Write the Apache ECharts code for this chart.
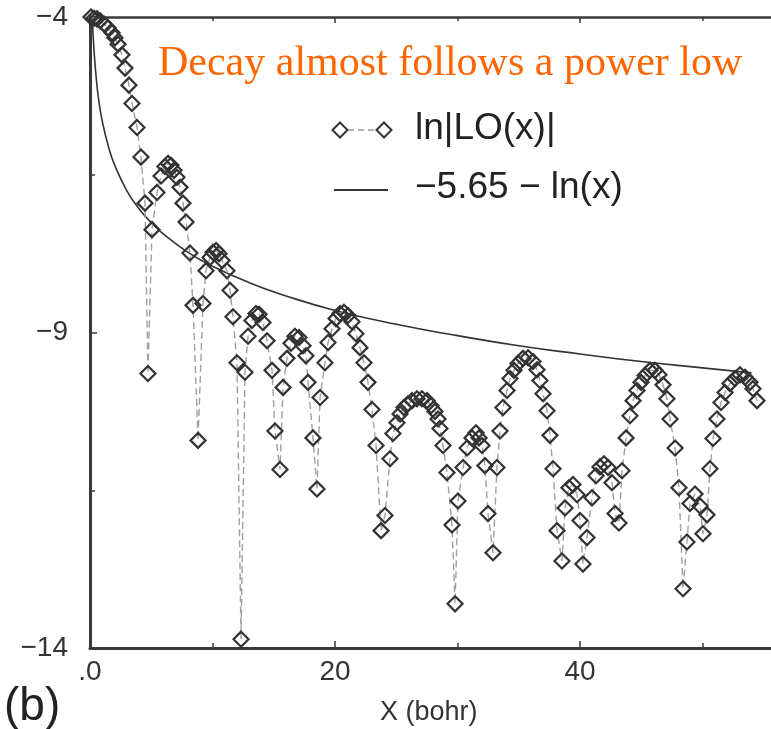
<!DOCTYPE html>
<html>
<head>
<meta charset="utf-8">
<title>ln|LO(x)| decay</title>
<script src="https://cdn.jsdelivr.net/npm/echarts@6/dist/echarts.min.js"></script>
<style>
  html, body { margin: 0; padding: 0; background: #fff; }
  #chart { width: 771px; height: 729px; }
</style>
</head>
<body>
<div id="chart"></div>
<script>
// ln|LO(x)| samples (x in bohr)
var loX = [0.08, 0.33, 0.57, 0.82, 1.14, 1.47, 1.80, 2.04, 2.29, 2.61, 2.86, 3.18, 3.43, 3.84, 4.16, 4.49, 4.73, 5.06, 5.47, 5.80,
  6.12, 6.37, 6.61, 6.86, 7.10, 7.35, 7.59, 7.84, 8.16, 8.41, 8.82, 9.22, 9.47, 9.80, 10.04, 10.29, 10.53, 10.78, 11.18, 11.43,
  11.67, 12.00, 12.33, 12.65, 12.90, 13.22, 13.55, 13.80, 14.12, 14.45, 14.86, 15.10, 15.51, 15.76, 16.08, 16.41, 16.73, 17.06, 17.39, 17.63,
  17.80, 18.20, 18.53, 18.78, 19.18, 19.43, 19.76, 20.08, 20.41, 20.73, 21.06, 21.39, 21.71, 22.04, 22.37, 22.69, 23.02, 23.35, 23.76, 24.08,
  24.49, 24.73, 25.06, 25.31, 25.63, 25.96, 26.29, 26.69, 27.10, 27.51, 27.84, 28.16, 28.41, 28.57, 28.82, 29.14, 29.55, 29.80, 30.04, 30.45,
  30.78, 31.18, 31.51, 31.76, 32.00, 32.24, 32.49, 32.90, 33.22, 33.47, 33.71, 34.04, 34.29, 34.61, 34.94, 35.35, 35.76, 36.16, 36.49, 36.73,
  36.98, 37.31, 37.55, 37.80, 38.12, 38.53, 38.78, 39.10, 39.43, 39.76, 40.00, 40.24, 40.57, 40.98, 41.31, 41.63, 41.96, 42.29, 42.61, 42.86,
  43.18, 43.43, 43.76, 44.08, 44.33, 44.65, 44.98, 45.31, 45.71, 46.12, 46.45, 46.78, 47.10, 47.35, 47.76, 48.08, 48.41, 48.73, 48.98, 49.39,
  49.80, 50.04, 50.37, 50.61, 50.86, 51.18, 51.51, 51.84, 52.24, 52.65, 53.06, 53.47, 53.88, 54.12, 54.45];
var loY = [-4.00, -4.02, -4.03, -4.06, -4.11, -4.17, -4.25, -4.33, -4.43, -4.60, -4.81, -5.08, -5.37, -5.75, -6.22, -6.95, -9.65, -7.37, -6.78, -6.52,
  -6.37, -6.32, -6.35, -6.43, -6.54, -6.70, -6.95, -7.25, -7.74, -8.57, -10.71, -8.54, -8.02, -7.81, -7.73, -7.70, -7.75, -7.86, -8.02, -8.33,
  -8.75, -9.48, -13.86, -9.63, -9.06, -8.81, -8.70, -8.71, -8.84, -9.13, -9.60, -10.56, -11.17, -9.87, -9.41, -9.17, -9.06, -9.08, -9.21, -9.37,
  -9.79, -10.67, -11.48, -10.03, -9.48, -9.16, -8.94, -8.78, -8.70, -8.68, -8.73, -8.83, -9.02, -9.24, -9.48, -9.79, -10.22, -10.79, -12.14, -11.90,
  -11.00, -10.60, -10.43, -10.29, -10.19, -10.13, -10.08, -10.05, -10.05, -10.08, -10.16, -10.25, -10.37, -10.52, -10.79, -11.22, -12.05, -13.30, -11.67, -11.14,
  -10.83, -10.67, -10.59, -10.67, -10.79, -11.11, -11.87, -12.49, -11.14, -10.56, -10.19, -9.92, -9.73, -9.60, -9.49, -9.41, -9.40, -9.46, -9.59, -9.76,
  -9.97, -10.24, -10.63, -11.16, -12.14, -12.62, -11.78, -11.46, -11.41, -11.57, -11.98, -12.67, -12.25, -11.62, -11.27, -11.13, -11.08, -11.14, -11.38, -11.87,
  -12.02, -11.19, -10.67, -10.32, -10.08, -9.92, -9.79, -9.68, -9.60, -9.60, -9.67, -9.83, -10.05, -10.37, -10.83, -11.46, -13.06, -12.32, -11.71, -11.56,
  -11.75, -12.19, -11.89, -11.16, -10.68, -10.37, -10.11, -9.95, -9.81, -9.73, -9.67, -9.71, -9.79, -9.89, -10.08];

// the solid reference curve
var fitX = [0.2, 0.3, 0.5, 0.7, 1, 1.5, 2, 3, 4, 5, 6, 8, 10, 13, 16, 20, 25, 30, 35, 40, 45, 50, 54];
var fitY = [-4.05, -4.45, -4.95, -5.3, -5.65, -6.05, -6.34, -6.75, -7.04, -7.26, -7.44, -7.73, -7.95, -8.21, -8.42, -8.65, -8.87, -9.05, -9.21, -9.34, -9.46, -9.56, -9.64];

var xTicks = [0, 20, 40];
var yTicks = [-14, -9, -4];
var seriesNames = ['ln|LO(x)|', '\u22125.65 \u2212 ln(x)'];

var chart = echarts.init(document.getElementById('chart'));

function pairs(xs, ys) {
  return xs.map(function (x, i) { return [x, ys[i]]; });
}

var axisColor = '#3a3a3a';
var labelFont = 'Liberation Sans, Arial, sans-serif';

// small helper for the hand drawn legend diamonds
function diamond(cx, cy, r) {
  return {
    type: 'polygon',
    shape: { points: [[cx, cy - r], [cx + r, cy], [cx, cy + r], [cx - r, cy]] },
    style: { fill: '#fff', stroke: '#333', lineWidth: 2 }
  };
}

chart.setOption({
  backgroundColor: '#fff',
  animation: false,
  title: {
    text: 'Decay almost follows a power low',
    left: 153,
    top: 38,
    textStyle: { fontFamily: 'Liberation Serif, Times New Roman, serif', fontWeight: 'normal', fontSize: 42, color: '#ff6600' }
  },
  // the plot runs past the right edge of the picture (x up to 60)
  grid: { left: 90, top: 17, width: 735, height: 631, outerBoundsMode: 'none', containLabel: false },
  xAxis: [{
    type: 'value', min: 0, max: 60, interval: 20,
    axisLine: { lineStyle: { color: axisColor, width: 3 } },
    axisTick: { inside: true, length: 7, lineStyle: { color: axisColor, width: 1.5 } },
    minorTick: { show: true, splitNumber: 2, length: 5, lineStyle: { color: axisColor, width: 1.5 } },
    splitLine: { show: false },
    axisLabel: {
      margin: 10, fontSize: 28, color: '#333', fontFamily: labelFont,
      formatter: function (v) { return xTicks.indexOf(v) < 0 ? '' : (v === 0 ? '.0' : String(v)); }
    }
  }, {
    type: 'value', position: 'top', min: 0, max: 60, interval: 20,
    axisLine: { onZero: false, lineStyle: { color: axisColor, width: 2.5 } },
    axisTick: { inside: true, length: 6, lineStyle: { color: axisColor, width: 1.5 } },
    minorTick: { show: true, splitNumber: 2, length: 4, lineStyle: { color: axisColor, width: 1.5 } },
    axisLabel: { show: false },
    splitLine: { show: false }
  }],
  yAxis: {
    type: 'value', min: -14, max: -4, interval: 5,
    axisLine: { onZero: false, lineStyle: { color: axisColor, width: 3 } },
    axisTick: { inside: true, length: 7, lineStyle: { color: axisColor, width: 1.5 } },
    minorTick: { show: true, splitNumber: 2, length: 5, lineStyle: { color: axisColor, width: 1.5 } },
    splitLine: { show: false },
    axisLabel: {
      margin: 22, fontSize: 28, color: '#333', fontFamily: labelFont,
      formatter: function (v) { return yTicks.indexOf(v) < 0 ? '' : String(v).replace('-', '\u2212'); }
    }
  },
  series: [{
    name: seriesNames[1],
    type: 'line',
    data: pairs(fitX, fitY),
    smooth: true,
    showSymbol: false,
    lineStyle: { color: '#333', width: 1.6 },
    z: 2
  }, {
    name: seriesNames[0],
    type: 'line',
    data: pairs(loX, loY),
    symbol: 'diamond',
    symbolSize: 15,
    itemStyle: { color: 'rgba(255,255,255,0)', borderColor: '#333', borderWidth: 2.2 },
    lineStyle: { color: '#a0a0a0', width: 1.4, type: [7, 4] },
    z: 3
  }],
  graphic: [
    diamond(340, 130, 7.5),
    { type: 'line', shape: { x1: 348, y1: 130, x2: 376, y2: 130 }, style: { stroke: '#999', lineWidth: 1.5, lineDash: [6, 4] } },
    diamond(384, 130, 7.5),
    { type: 'text', left: 415, top: 110, style: { text: seriesNames[0], font: '37px Liberation Sans, Arial, sans-serif', fill: '#222' } },
    { type: 'line', shape: { x1: 334, y1: 190, x2: 388, y2: 190 }, style: { stroke: '#333', lineWidth: 2 } },
    { type: 'text', left: 415, top: 169, style: { text: seriesNames[1], font: '37px Liberation Sans, Arial, sans-serif', fill: '#222' } },
    { type: 'text', left: 380, top: 699, style: { text: 'X (bohr)', font: '27px Liberation Sans, Arial, sans-serif', fill: '#333' } },
    { type: 'text', left: 4, top: 684, style: { text: '(b)', font: '46px Liberation Sans, Arial, sans-serif', fill: '#222' } }
  ]
});
</script>
</body>
</html>
